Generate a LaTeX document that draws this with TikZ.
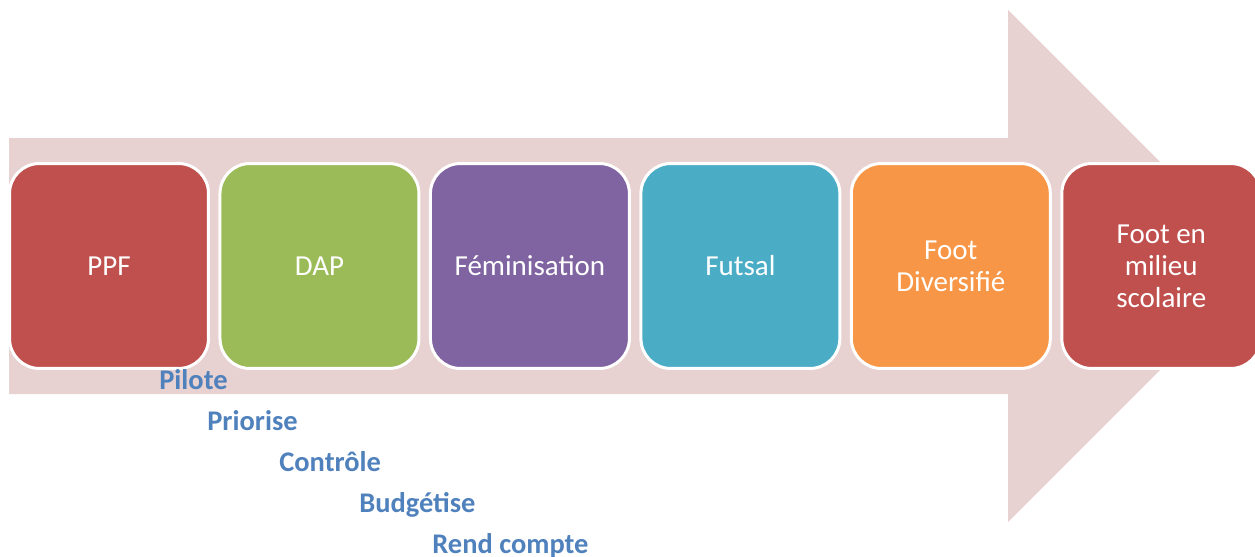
\documentclass[tikz,border=0pt]{standalone}
\usepackage{fontspec}
\setmainfont{Carlito}
\usepackage{tikz}
\usetikzlibrary{positioning}
\definecolor{arrowfill}{RGB}{232,209,209}
\definecolor{ppffill}{RGB}{192,80,77}
\definecolor{dapfill}{RGB}{155,187,89}
\definecolor{femfill}{RGB}{128,100,162}
\definecolor{futfill}{RGB}{75,172,198}
\definecolor{divfill}{RGB}{247,150,70}
\definecolor{labelblue}{RGB}{79,129,189}
\tikzset{
    stage/.style={
        rectangle,
        rounded corners=0.6cm,
        draw=white,
        line width=0.06cm,
        text=white,
        align=center,
        minimum width=3.98cm,
        minimum height=4.1cm,
        inner sep=0pt,
        font=\fontsize{16.5pt}{18.2pt}\selectfont
    },
    role/.style={
        anchor=base west,
        inner sep=0pt,
        text=labelblue,
        font=\fontsize{16.2pt}{19pt}\selectfont\bfseries
    }
}
\begin{document}
\begin{tikzpicture}[x=0.02cm, y=-0.02cm, node distance=0.17cm]

\clip (0,0) rectangle (1255,556);

% Big arrow in the background
\fill[arrowfill] (9,138) -- (1008,138) -- (1008,10) -- (1264,266)
    -- (1008,522) -- (1008,394) -- (9,394) -- cycle;

% Stages
\node[stage, fill=ppffill] (ppf) at (109,266) {PPF};
\node[stage, fill=dapfill, right=of ppf] (dap) {DAP};
\node[stage, fill=femfill, right=of dap] (fem) {Féminisation};
\node[stage, fill=futfill, right=of fem] (futsal) {Futsal};
\node[stage, fill=divfill, right=of futsal] (divers) {Foot\\Diversifié};
\node[stage, fill=ppffill, right=of divers] (scolaire) {Foot en\\milieu\\scolaire};

% Roles
\node[role] (pilote) at (159,389) {Pilote};
\node[role] (priorise) at (207,430) {Priorise};
\node[role] (controle) at (279,471) {Contrôle};
\node[role] (budget) at (359,512) {Budgétise};
\node[role] (rend) at (432,553) {Rend compte};

\end{tikzpicture}
\end{document}
